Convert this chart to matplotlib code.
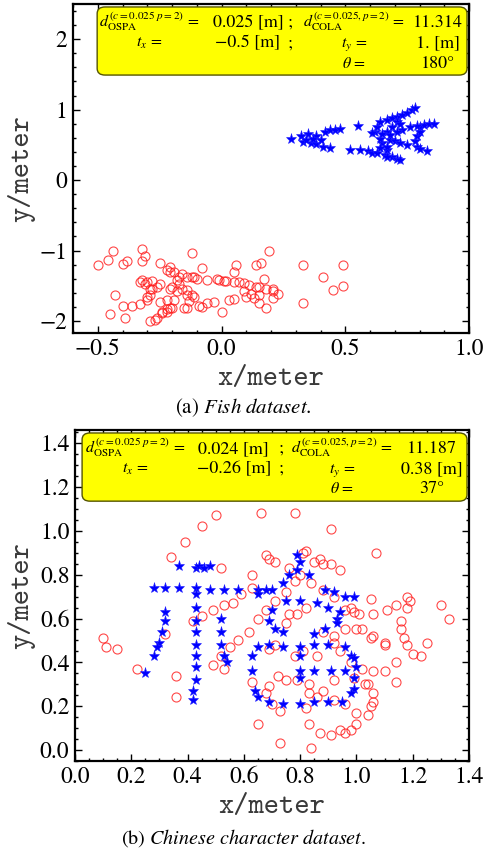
import numpy as np
import matplotlib.pyplot as plt
from matplotlib.patches import FancyBboxPatch
from matplotlib.ticker import MultipleLocator

plt.rcParams["font.family"] = ["STIXGeneral", "DejaVu Serif"]
plt.rcParams["mathtext.fontset"] = "stix"

# (a) fish dataset: model points (red circles) and transformed scene (blue stars)
fish_red = np.array([
    (-0.44, -1.00), (-0.32, -0.98), (-0.12, -1.03), (0.19, -1.01), (-0.31, -1.07),
    (-0.32, -1.15), (-0.46, -1.14), (-0.38, -1.15), (-0.50, -1.21), (-0.40, -1.19),
    (-0.25, -1.18), (-0.21, -1.23), (-0.08, -1.25), (0.06, -1.21), (0.05, -1.31),
    (0.14, -1.20), (0.16, -1.18), (0.33, -1.20), (0.49, -1.21),
    (-0.32, -1.42), (-0.33, -1.44), (-0.30, -1.44), (-0.28, -1.43), (-0.31, -1.47),
    (-0.26, -1.51), (-0.29, -1.54), (-0.25, -1.47), (-0.22, -1.28), (-0.21, -1.31),
    (-0.19, -1.30), (-0.17, -1.37), (-0.18, -1.42), (-0.17, -1.47), (-0.16, -1.33),
    (-0.14, -1.37), (-0.12, -1.37), (-0.11, -1.37), (-0.10, -1.40), (-0.06, -1.42),
    (-0.02, -1.41), (-0.01, -1.42), (0.01, -1.43), (0.02, -1.43), (0.05, -1.44),
    (0.07, -1.44), (0.09, -1.46), (0.11, -1.49), (0.14, -1.51), (0.15, -1.51),
    (0.17, -1.41), (0.18, -1.55), (0.21, -1.55), (0.21, -1.58), (0.23, -1.61),
    (0.41, -1.38), (0.49, -1.50), (0.45, -1.56),
    (-0.43, -1.63), (-0.40, -1.79), (-0.36, -1.78), (-0.33, -1.76), (-0.30, -1.70),
    (-0.29, -1.63), (-0.30, -1.66), (-0.28, -1.54), (-0.25, -1.73), (-0.22, -1.70),
    (-0.21, -1.54), (-0.20, -1.51), (-0.19, -1.70), (-0.18, -1.58), (-0.16, -1.55),
    (-0.14, -1.56), (-0.14, -1.63), (-0.12, -1.63), (-0.13, -1.72), (-0.11, -1.66),
    (-0.09, -1.79), (-0.08, -1.80), (-0.06, -1.75), (-0.03, -1.73), (0.00, -1.87),
    (0.03, -1.70), (0.05, -1.69), (0.09, -1.58), (0.10, -1.66), (0.12, -1.61),
    (0.13, -1.68), (0.15, -1.63), (0.18, -1.82), (0.21, -1.68), (0.33, -1.75),
    (0.15, -1.75),
    (-0.45, -1.90), (-0.39, -1.96), (-0.29, -2.00), (-0.27, -1.98), (-0.26, -1.95),
    (-0.24, -1.89), (-0.24, -1.87), (-0.22, -1.87), (-0.22, -1.83), (-0.21, -1.81),
    (-0.20, -1.82), (-0.15, -1.82), (-0.14, -1.82),
])

fish_blue = np.array([
    (0.28, 0.59), (0.32, 0.62), (0.35, 0.65), (0.38, 0.62), (0.42, 0.69),
    (0.44, 0.71), (0.46, 0.71), (0.48, 0.73), (0.55, 0.77), (0.33, 0.54),
    (0.36, 0.53), (0.38, 0.51), (0.41, 0.47), (0.44, 0.46), (0.34, 0.57),
    (0.37, 0.59), (0.40, 0.57),
    (0.52, 0.43), (0.56, 0.43), (0.59, 0.41), (0.61, 0.39), (0.63, 0.38),
    (0.66, 0.36), (0.69, 0.33), (0.71, 0.30), (0.72, 0.28), (0.67, 0.43),
    (0.65, 0.52), (0.64, 0.59), (0.62, 0.69), (0.61, 0.67), (0.63, 0.76),
    (0.64, 0.83), (0.67, 0.85), (0.69, 0.88), (0.71, 0.90), (0.73, 0.92),
    (0.75, 0.95), (0.77, 0.99), (0.78, 1.02), (0.71, 0.83), (0.72, 0.80),
    (0.69, 0.76), (0.67, 0.69), (0.65, 0.66), (0.68, 0.57), (0.70, 0.56),
    (0.72, 0.53), (0.75, 0.50), (0.78, 0.56), (0.79, 0.62), (0.80, 0.69),
    (0.80, 0.76), (0.82, 0.78), (0.84, 0.79), (0.86, 0.80), (0.79, 0.47),
    (0.80, 0.44), (0.83, 0.42), (0.79, 0.77), (0.76, 0.76), (0.73, 0.71),
    (0.71, 0.69), (0.68, 0.64), (0.64, 0.45), (0.67, 0.47), (0.67, 0.33),
])

# (b) chinese character dataset
chn_red = np.array([
    (0.50, 1.07), (0.45, 1.02), (0.39, 0.95), (0.34, 0.88), (0.52, 0.83),
    (0.49, 0.64), (0.53, 0.66), (0.56, 0.67), (0.45, 0.61), (0.42, 0.59),
    (0.32, 0.53), (0.10, 0.51), (0.11, 0.47), (0.15, 0.46), (0.55, 0.47),
    (0.58, 0.50), (0.52, 0.43), (0.49, 0.39), (0.53, 0.37), (0.22, 0.37),
    (0.66, 1.08), (0.78, 1.08), (0.91, 1.01), (1.07, 0.90), (0.68, 0.89),
    (0.69, 0.87), (0.71, 0.86), (0.81, 0.90), (0.82, 0.91), (0.85, 0.86),
    (0.87, 0.87), (0.88, 0.85), (0.91, 0.85), (0.94, 0.82), (0.76, 0.83),
    (0.63, 0.80), (0.80, 0.80), (0.78, 0.77), (0.84, 0.76), (0.63, 0.74),
    (0.59, 0.71), (0.75, 0.72), (0.88, 0.73), (0.92, 0.70), (0.71, 0.68),
    (0.68, 0.64), (0.82, 0.65), (0.79, 0.62), (0.76, 0.62), (0.65, 0.60),
    (0.75, 0.58), (0.62, 0.54), (0.88, 0.54), (0.92, 0.52), (0.96, 0.55),
    (1.00, 0.55), (1.02, 0.55), (0.96, 0.64), (0.98, 0.65), (0.99, 0.63),
    (1.01, 0.62), (1.05, 0.69), (1.06, 0.62), (1.11, 0.64), (1.14, 0.66),
    (1.18, 0.70), (1.19, 0.68), (1.18, 0.65), (1.16, 0.59), (1.16, 0.55),
    (1.30, 0.66), (1.33, 0.60), (1.05, 0.51), (1.06, 0.52), (1.10, 0.49),
    (1.10, 0.48), (1.17, 0.51), (1.18, 0.48), (1.25, 0.49), (1.20, 0.44),
    (1.23, 0.43), (1.14, 0.40), (1.02, 0.37), (0.98, 0.40), (0.94, 0.45),
    (0.86, 0.43), (0.81, 0.45), (0.78, 0.43), (0.69, 0.46), (0.71, 0.48),
    (0.92, 0.49), (0.36, 0.34), (0.36, 0.24),
    (0.63, 0.31), (0.69, 0.29), (0.68, 0.26), (0.72, 0.34), (0.75, 0.32),
    (0.79, 0.32), (0.83, 0.30), (0.83, 0.26), (0.86, 0.24), (0.88, 0.27),
    (0.92, 0.32), (0.92, 0.23), (0.96, 0.21), (0.99, 0.33), (1.03, 0.30),
    (1.04, 0.30), (1.06, 0.36), (1.10, 0.36), (1.14, 0.31), (1.06, 0.26),
    (1.06, 0.22), (1.05, 0.20), (1.04, 0.16), (1.00, 0.17), (1.00, 0.12),
    (0.98, 0.09), (0.96, 0.08), (0.94, 0.09), (0.91, 0.07), (0.87, 0.08),
    (0.83, 0.12), (0.82, 0.19), (0.73, 0.18), (0.70, 0.21), (0.65, 0.12),
    (0.73, 0.03), (0.84, 0.01),
])

chn_blue = np.array([
    (0.37, 0.84), (0.43, 0.83), (0.44, 0.84), (0.46, 0.83), (0.48, 0.84),
    (0.28, 0.74), (0.32, 0.74), (0.37, 0.74), (0.43, 0.74), (0.43, 0.71),
    (0.48, 0.73), (0.53, 0.73), (0.58, 0.73), (0.32, 0.63), (0.43, 0.65),
    (0.32, 0.59), (0.43, 0.59), (0.52, 0.60), (0.31, 0.54), (0.43, 0.54),
    (0.52, 0.54), (0.30, 0.49), (0.29, 0.47), (0.43, 0.48), (0.52, 0.48),
    (0.28, 0.43), (0.43, 0.43), (0.53, 0.43), (0.54, 0.40), (0.43, 0.38),
    (0.79, 0.89), (0.80, 0.86), (0.79, 0.82), (0.76, 0.80), (0.83, 0.80),
    (0.74, 0.76), (0.65, 0.73), (0.68, 0.73), (0.70, 0.73), (0.65, 0.71),
    (0.89, 0.73), (0.92, 0.72), (0.75, 0.68), (0.80, 0.68), (0.86, 0.67),
    (0.96, 0.70), (0.99, 0.70), (0.90, 0.65), (0.70, 0.64), (0.94, 0.63),
    (0.93, 0.60), (0.93, 0.58), (0.69, 0.59), (0.71, 0.55), (0.74, 0.54),
    (0.85, 0.53), (0.89, 0.55), (0.65, 0.47), (0.69, 0.48), (0.74, 0.47),
    (0.80, 0.47), (0.85, 0.48), (0.90, 0.48), (0.96, 0.47), (0.63, 0.43),
    (0.80, 0.43), (0.98, 0.43), (0.99, 0.42), (1.00, 0.38),
    (0.25, 0.35), (0.43, 0.32), (0.42, 0.27), (0.42, 0.23),
    (0.63, 0.36), (0.80, 0.36), (0.85, 0.36), (0.91, 0.36), (0.96, 0.36),
    (0.99, 0.33), (0.99, 0.28), (0.98, 0.26), (0.64, 0.27), (0.65, 0.24),
    (0.69, 0.22), (0.74, 0.21), (0.80, 0.21), (0.85, 0.22), (0.90, 0.22),
    (0.95, 0.22), (0.80, 0.33),
])

# result boxes: one row per line, columns as in the Mathematica grid
fish_rows = [
    [r"$d^{(c{=}0.025\ p{=}2)}_{\mathrm{OSPA}}$ =", "0.025 [m]", ";",
     r"$d^{(c{=}0.025,p{=}2)}_{\mathrm{COLA}}$ =", "11.314"],
    [r"$t_x$ =", "\u22120.5 [m]", ";", r"$t_y$ =", "1. [m]"],
    ["", "", "", r"$\theta$ =", "180\u00b0"],
]
chn_rows = [
    [r"$d^{(c{=}0.025\ p{=}2)}_{\mathrm{OSPA}}$ =", "0.024 [m]", ";",
     r"$d^{(c{=}0.025,p{=}2)}_{\mathrm{COLA}}$ =", "11.187"],
    [r"$t_x$ =", "\u22120.26 [m]", ";", r"$t_y$ =", "0.38 [m]"],
    ["", "", "", r"$\theta$ =", "37\u00b0"],
]

fig = plt.figure(figsize=(4.87, 8.56), dpi=100)
ax1 = fig.add_axes([73 / 487, 1 - 333 / 856, 396 / 487, 329 / 856])
ax2 = fig.add_axes([75 / 487, 1 - 761 / 856, 394 / 487, 331 / 856])


def draw(ax, red, blue):
    ax.plot(red[:, 0], red[:, 1], "o", ms=6.5, mfc="none",
            mec=(1, 0.1, 0.1, 0.8), mew=0.8)
    ax.plot(blue[:, 0], blue[:, 1], "*", ms=8, color="#0000ff",
            mec="#2020ff", mew=0.4)


def style(ax, xlim, ylim, xmaj, xmin, ymaj, ymin):
    ax.set_xlim(xlim)
    ax.set_ylim(ylim)
    ax.xaxis.set_major_locator(MultipleLocator(xmaj))
    ax.xaxis.set_minor_locator(MultipleLocator(xmin))
    ax.yaxis.set_major_locator(MultipleLocator(ymaj))
    ax.yaxis.set_minor_locator(MultipleLocator(ymin))
    ax.tick_params(which="both", direction="in", top=True, right=True,
                   width=1.0, labelsize=17, pad=4)
    ax.tick_params(which="major", length=5)
    ax.tick_params(which="minor", length=2.5)
    for s in ax.spines.values():
        s.set_linewidth(1.6)
    ax.set_xlabel("x/meter", family="cmtt10", fontsize=21,
                  color="#3a3a3a", labelpad=5)
    ax.set_ylabel("y/meter", family="cmtt10", fontsize=21,
                  color="#3a3a3a", labelpad=3)


def box(ax, rows, x0, x1, y0, y1, cols, ys):
    ax.add_patch(FancyBboxPatch((x0, y0), x1 - x0, y1 - y0,
                                boxstyle="round,pad=0,rounding_size=0.02",
                                transform=ax.transAxes, fc="#ffff00",
                                ec="#555500", lw=1.0, zorder=5))
    for row, y in zip(rows, ys):
        for i, (txt, x) in enumerate(zip(row, cols)):
            if txt:
                size = 11.5 if i in (0, 3) else 13
                ax.text(x, y, txt, transform=ax.transAxes, ha="center",
                        va="baseline", fontsize=size, zorder=6)


draw(ax1, fish_red, fish_blue)
style(ax1, (-0.6, 1.0), (-2.17, 2.5), 0.5, 0.1, 1, 0.2)
box(ax1, fish_rows, 0.061, 0.995, 0.784, 0.991,
    [0.192, 0.442, 0.548, 0.710, 0.922], [0.930, 0.869, 0.805])

draw(ax2, chn_red, chn_blue)
style(ax2, (0.0, 1.4), (-0.05, 1.46), 0.2, 0.05, 0.2, 0.05)
box(ax2, chn_rows, 0.018, 0.995, 0.785, 0.991,
    [0.152, 0.403, 0.523, 0.678, 0.906], [0.931, 0.870, 0.810])

fig.text(0.5, 1 - 408 / 856, r"(a) $\mathit{Fish\ dataset.}$",
         ha="center", va="center", fontsize=15)
fig.text(0.5, 1 - 838 / 856, r"(b) $\mathit{Chinese\ character\ dataset.}$",
         ha="center", va="center", fontsize=14.5)

fig.savefig("out.png", dpi=100)
